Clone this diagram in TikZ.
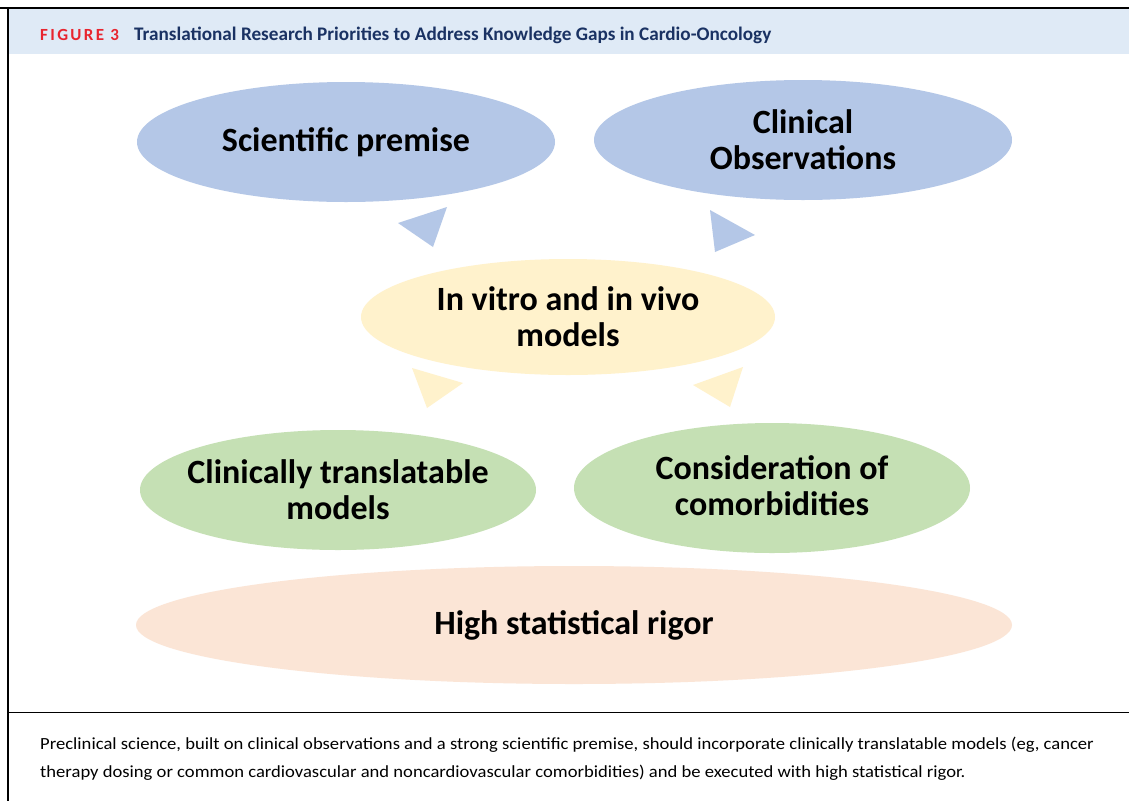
\documentclass[tikz,border=0pt]{standalone}
\usepackage{fontspec}
\setmainfont{Carlito}
\definecolor{ellblue}{HTML}{B4C7E7}
\definecolor{ellyellow}{HTML}{FFF2CC}
\definecolor{ellgreen}{HTML}{C5E0B4}
\definecolor{ellpink}{HTML}{FBE5D6}
\definecolor{headbg}{HTML}{DFEAF6}
\definecolor{figred}{HTML}{E8252F}
\definecolor{navy}{HTML}{1A3263}
\tikzset{
  bubble/.style={inner sep=0pt, align=center, font=\fontsize{34}{36}\selectfont\bfseries, text=black},
  captext/.style={anchor=base west, inner sep=0pt, font=\fontsize{17}{20}\selectfont\addfontfeature{FakeStretch=1.095}},
}
\begin{document}
\begin{tikzpicture}[x=1pt,y=-1pt]
\useasboundingbox (0,0) rectangle (1129,801);
\fill[white] (0,0) rectangle (1129,801);
% header band
\fill[headbg] (8,9) rectangle (1129,54);
\draw[line width=1.4pt] (0,8) -- (1129,8);
\draw[line width=1.2pt] (8,8) -- (8,801);
\draw[line width=1pt] (8,712) -- (1129,712);
\node[anchor=base west, inner sep=0pt, font=\fontsize{17}{20}\selectfont\bfseries, text=figred] (figlbl) at (40,40) {\addfontfeature{LetterSpace=14}FIGURE 3};
\node[anchor=base west, inner sep=0pt, font=\fontsize{19.2}{22}\selectfont\bfseries, text=navy] (figtitle) at (134,40) {Translational Research Priorities to Address Knowledge Gaps in Cardio-Oncology};
% ellipses
\fill[ellblue] (346,142) ellipse [x radius=209pt, y radius=60pt];
\fill[ellblue] (803,140) ellipse [x radius=209pt, y radius=60pt];
\fill[ellyellow] (568,317) ellipse [x radius=207pt, y radius=58pt];
\fill[ellgreen] (338,490) ellipse [x radius=198pt, y radius=60pt];
\fill[ellgreen] (772,488) ellipse [x radius=198pt, y radius=65pt];
\fill[ellpink] (574,625) ellipse [x radius=438pt, y radius=59pt];
\node[bubble] (sci) at (346,142) {Scientific premise};
\node[bubble] (clin) at (803,140) {Clinical\\Observations};
\node[bubble] (vitro) at (568,317) {In vitro and in vivo\\models};
\node[bubble] (trans) at (338,490) {Clinically translatable\\models};
\node[bubble] (comor) at (772,486) {Consideration of\\comorbidities};
\node[bubble] (rigor) at (574,625) {High statistical rigor};
% triangles
\fill[ellblue] (398,223) -- (447,207) -- (433,247) -- cycle;
\fill[ellblue] (710,210) -- (755,235) -- (715,252) -- cycle;
\fill[ellyellow] (412,368) -- (463,383) -- (427,408) -- cycle;
\fill[ellyellow] (743,367) -- (693,385) -- (730,407) -- cycle;
% caption
\node[captext] (cap1) at (40,749) {Preclinical science, built on clinical observations and a strong scientific premise, should incorporate clinically translatable models (eg, cancer};
\node[captext] (cap2) at (40,777) {therapy dosing or common cardiovascular and noncardiovascular comorbidities) and be executed with high statistical rigor.};
\end{tikzpicture}
\end{document}
